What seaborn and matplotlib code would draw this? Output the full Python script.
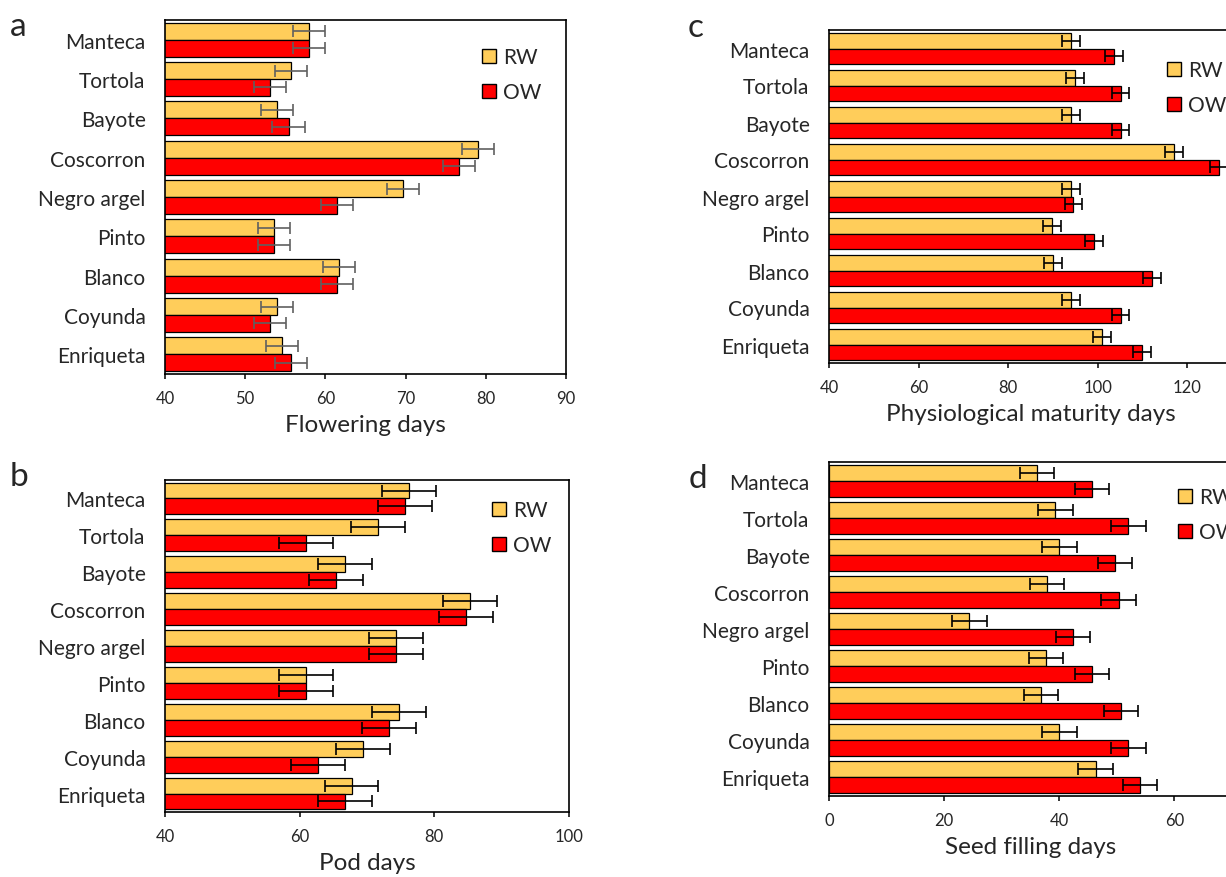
"""Four-panel horizontal bar chart: phenology days of bean cultivars,
RW vs OW, with error bars."""

import matplotlib
matplotlib.use("Agg")
import matplotlib.pyplot as plt
from matplotlib.patches import Patch
import pandas as pd
import seaborn as sns

# ---- data ----
cultivars = ["Manteca", "Tortola", "Bayote", "Coscorron", "Negro argel",
             "Pinto", "Blanco", "Coyunda", "Enriqueta"]

flower_rw = [58.0, 55.7, 54.0, 79.0, 69.7, 53.6, 61.7, 54.0, 54.6]
flower_ow = [58.0, 53.1, 55.4, 76.7, 61.4, 53.6, 61.4, 53.1, 55.7]
flower_err = 2.0

pod_rw = [76.3, 71.6, 66.7, 85.3, 74.3, 61.0, 74.7, 69.4, 67.7]
pod_ow = [75.6, 61.0, 65.4, 84.7, 74.3, 61.0, 73.3, 62.7, 66.7]
pod_err = 4.0

mat_rw = [94.0, 95.0, 94.0, 117.1, 94.0, 89.7, 90.0, 94.0, 101.0]
mat_ow = [103.7, 105.1, 105.1, 127.0, 94.6, 99.1, 112.1, 105.1, 109.8]
mat_err = 2.0

seed_rw = [36.1, 39.3, 40.0, 37.9, 24.4, 37.7, 36.8, 40.0, 46.3]
seed_ow = [45.7, 52.0, 49.7, 50.3, 42.4, 45.7, 50.7, 52.0, 54.0]
seed_err = 3.0

water = ["RW", "OW"]
colors = {"RW": "#FFCD5A", "OW": "#FF0000"}

W, H = 1226, 878

sns.set_theme(style="white")
plt.rcParams["font.family"] = ["Lato", "DejaVu Sans"]


def draw_panel(fig, rect, rw, ow, err, xlim, ticks, xlabel, letter,
               letter_xy, errcolor, leg_xy):
    ax = fig.add_axes(rect)
    df = pd.DataFrame({"cultivar": cultivars * 2,
                       "days": rw + ow,
                       "water": ["RW"] * len(rw) + ["OW"] * len(ow)})
    sns.barplot(data=df, x="days", y="cultivar", hue="water", orient="h",
                hue_order=water, palette=colors, saturation=1, width=0.86,
                gap=0, edgecolor="black", linewidth=0.9, errorbar=None,
                legend=False, ax=ax)
    # error bars on top of each bar
    for bars, vals in zip(ax.containers, (rw, ow)):
        ys = [b.get_y() + b.get_height() / 2 for b in bars]
        ax.errorbar(vals, ys, xerr=err, fmt="none", ecolor=errcolor,
                    elinewidth=1.2, capsize=4, capthick=1.2, zorder=5)

    ax.set_xlim(*xlim)
    ax.set_ylim(len(cultivars) - 0.5, -0.5)
    ax.set_xticks(ticks)
    ax.set_xlabel(xlabel, fontsize=17.5, labelpad=6)
    ax.set_ylabel("")
    ax.tick_params(axis="x", direction="out", length=3.6, width=1.1,
                   pad=8, labelsize=12, bottom=True, color="black")
    ax.tick_params(axis="y", length=0, pad=14, labelsize=15)
    for s in ax.spines.values():
        s.set_color("black")
        s.set_linewidth(1.2)

    handles = [Patch(facecolor=colors[w], edgecolor="black", linewidth=1,
                     label=w) for w in water]
    ax.legend(handles=handles, loc="upper left",
              bbox_to_anchor=(leg_xy[0] / W, 1 - leg_xy[1] / H),
              bbox_transform=fig.transFigure, frameon=False, borderpad=0,
              handlelength=0.65, handleheight=0.65, handletextpad=0.35,
              labelspacing=0.7, fontsize=15)

    fig.text(letter_xy[0] / W, 1 - letter_xy[1] / H, letter, fontsize=24,
             ha="center", va="center")
    return ax


fig = plt.figure(figsize=(W / 100, H / 100), dpi=100)

draw_panel(fig, [165 / W, 1 - 375 / H, 401 / W, 354 / H],
           flower_rw, flower_ow, flower_err, (40, 90), range(40, 91, 10),
           "Flowering days", "a", (18, 27), "#606060", (472, 38))
draw_panel(fig, [165 / W, 1 - 813 / H, 404 / W, 332 / H],
           pod_rw, pod_ow, pod_err, (40, 100), range(40, 101, 20),
           "Pod days", "b", (19, 477), "black", (482, 491))
draw_panel(fig, [829 / W, 1 - 364 / H, 403 / W, 333 / H],
           mat_rw, mat_ow, mat_err, (40, 130), range(40, 121, 20),
           "Physiological maturity days", "c", (696, 28), "black", (1157, 51))
draw_panel(fig, [829 / W, 1 - 797 / H, 403 / W, 334 / H],
           seed_rw, seed_ow, seed_err, (0, 70), range(0, 61, 20),
           "Seed filling days", "d", (698, 479), "black", (1168, 478))

fig.savefig("out.png", dpi=100)
plt.close(fig)
